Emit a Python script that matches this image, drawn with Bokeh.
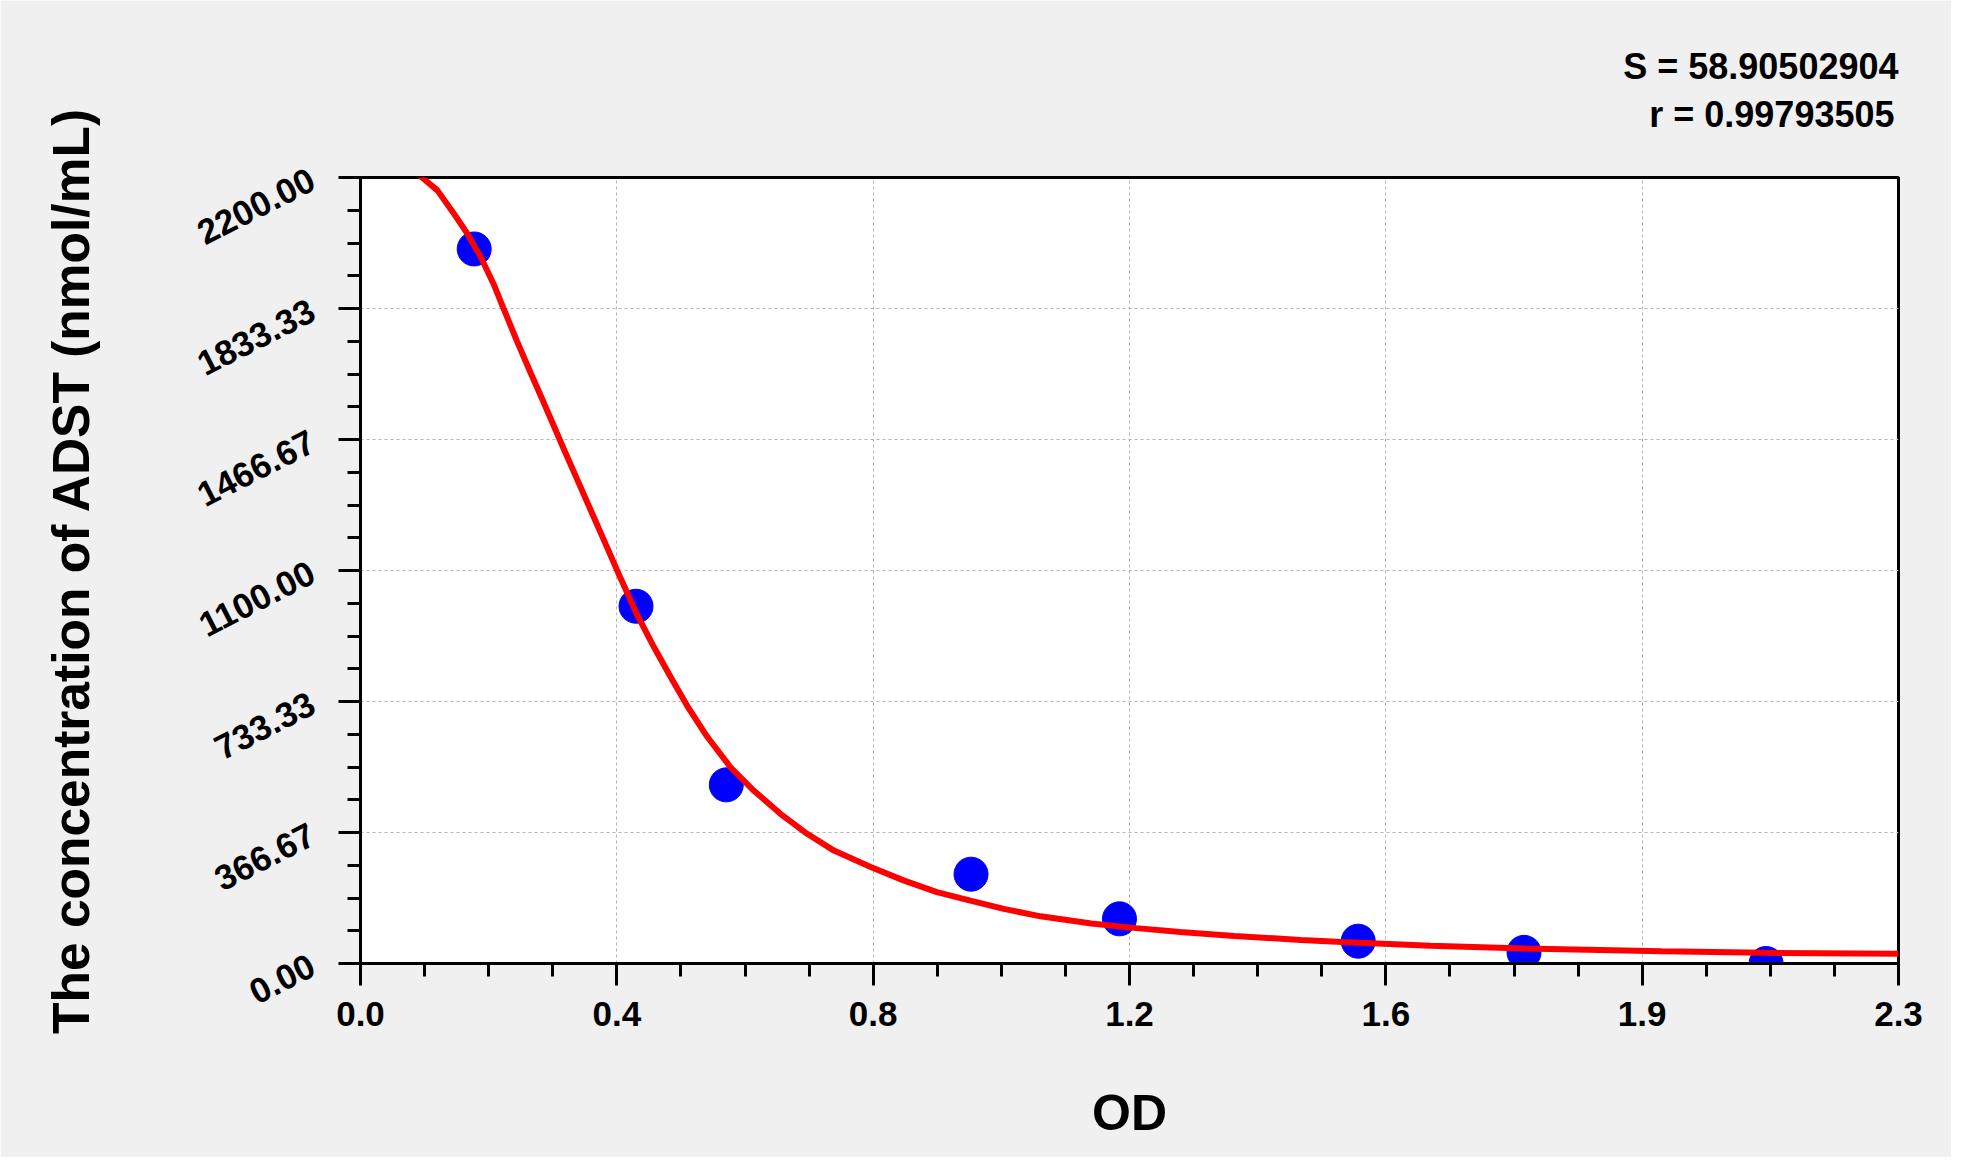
import math
from bokeh.plotting import figure
from bokeh.models import Range1d, FixedTicker, Title
from bokeh.embed import file_html
from bokeh.resources import INLINE

# ---- data ----
od_values = [0.170, 0.412, 0.547, 0.913, 1.135, 1.492, 1.740, 2.102]
conc_values = [2000, 1000, 500, 250, 125, 62.5, 31.25, 0]

curve_od = [0.087, 0.115, 0.140, 0.160, 0.180, 0.199, 0.214, 0.234, 0.254, 0.274,
            0.289, 0.304, 0.324, 0.344, 0.364, 0.389, 0.414, 0.439, 0.464, 0.489,
            0.518, 0.553, 0.588, 0.628, 0.668, 0.708, 0.763, 0.813, 0.862, 0.912,
            0.962, 1.017, 1.093, 1.160, 1.226, 1.307, 1.406, 1.468, 1.600, 1.741,
            1.946, 2.100, 2.300]
curve_conc = [2208, 2164, 2098, 2042, 1977, 1902, 1833, 1742, 1655, 1570,
              1505, 1440, 1355, 1270, 1185, 1078, 975, 885, 801, 720,
              636, 550, 484, 419, 363, 316, 270, 232, 200, 176,
              153, 132, 112, 99, 88, 77, 66, 60, 50, 42,
              34, 30, 27]

x_ticks = [0, 0.383333, 0.766667, 1.15, 1.533333, 1.916667, 2.3]
x_tick_labels = ["0.0", "0.4", "0.8", "1.2", "1.6", "1.9", "2.3"]
y_ticks = [0, 366.666667, 733.333333, 1100, 1466.666667, 1833.333333, 2200]
y_tick_labels = ["0.00", "366.67", "733.33", "1100.00", "1466.67", "1833.33", "2200.00"]

stat_s = "S = 58.90502904"
stat_r = "r = 0.99793505"
x_title = "OD"
y_title = "The concentration of ADST (nmol/mL)"


def minors(ticks, n=4):
    out = []
    for a, b in zip(ticks[:-1], ticks[1:]):
        for k in range(1, n):
            out.append(a + (b - a) * k / n)
    return out


FONT = "Liberation Sans"

p = figure(width=1951, height=1157, output_backend="svg", toolbar_location=None,
           x_range=Range1d(0, 2.3), y_range=Range1d(0, 2200),
           min_border_left=360, min_border_right=53, min_border_top=177,
           min_border_bottom=194)

p.background_fill_color = "white"
p.border_fill_color = "#f0f0f0"
p.outline_line_color = "black"
p.outline_line_width = 3

# axes
p.xaxis.ticker = FixedTicker(ticks=x_ticks, minor_ticks=minors(x_ticks))
p.yaxis.ticker = FixedTicker(ticks=y_ticks, minor_ticks=minors(y_ticks))
p.xaxis.major_label_overrides = dict(zip(x_ticks, x_tick_labels))
p.yaxis.major_label_overrides = dict(zip(y_ticks, y_tick_labels))

for ax in (p.xaxis[0], p.yaxis[0]):
    ax.axis_line_width = 3
    ax.axis_line_color = "black"
    ax.major_tick_line_width = 3
    ax.minor_tick_line_width = 3
    ax.major_tick_line_color = "black"
    ax.minor_tick_line_color = "black"
    ax.major_tick_in = 0
    ax.major_tick_out = 22
    ax.minor_tick_in = 0
    ax.minor_tick_out = 13
    ax.major_label_text_font = FONT
    ax.major_label_text_font_style = "bold"
    ax.major_label_text_color = "black"
    ax.axis_label_text_font = FONT
    ax.axis_label_text_font_style = "bold"
    ax.axis_label_text_color = "black"

p.xaxis.major_label_text_font_size = "35px"
p.xaxis.major_label_standoff = 16
p.xaxis.axis_label = x_title
p.xaxis.axis_label_text_font_size = "50px"
p.xaxis.axis_label_standoff = 56

p.yaxis.major_label_text_font_size = "35px"
p.yaxis.major_label_orientation = math.radians(27)
p.yaxis.major_label_standoff = 26
p.yaxis.axis_label = y_title
p.yaxis.axis_label_text_font_size = "51.5px"
p.yaxis.axis_label_standoff = 86

# grid
for g in (p.xgrid[0], p.ygrid[0]):
    g.grid_line_color = "#b4b4b4"
    g.grid_line_width = 1
    g.grid_line_dash = "3 3"

# data
p.scatter(od_values, conc_values, size=34, marker="circle",
          fill_color="#0000ff", line_color="#0000ff")
p.line(curve_od, curve_conc, line_color="#ff0000", line_width=6)

# statistics text (stacked above the frame, right aligned)
p.add_layout(Title(text=stat_r, align="right", offset=4, standoff=85,
                   text_font=FONT, text_font_style="bold",
                   text_font_size="36px", text_color="black"), "above")
p.add_layout(Title(text=stat_s, align="right", standoff=-75,
                   text_font=FONT, text_font_style="bold",
                   text_font_size="36px", text_color="black"), "above")

open("out.html", "w").write(file_html(p, INLINE))
